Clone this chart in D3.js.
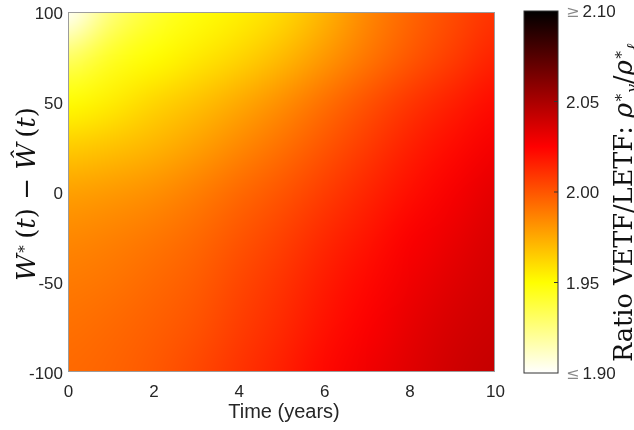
<!DOCTYPE html>
<html><head><meta charset="utf-8">
<script src="https://cdn.jsdelivr.net/npm/d3@7"></script>
<style>
html,body{margin:0;padding:0;background:#fff;}
#wrap{position:relative;width:634px;height:430px;overflow:hidden;background:#fff;}
canvas,svg{position:absolute;left:0;top:0;}
</style></head><body>
<div id="wrap"><canvas id="cv" width="634" height="430"></canvas><svg id="sv" width="634" height="430"></svg></div>
<script>
// ---- data ----
const times = [0,1,2,3,4,5,6,7,8,9,10];              // years
const wealthGaps = [100,75,50,25,0,-25,-50,-75,-100]; // W*(t) - Ŵ(t)
const ratioW100  = [1.900,1.926,1.940,1.948,1.954,1.961,1.972,1.985,1.995,2.003,2.010];
const ratioW75   = [1.930,1.943,1.950,1.956,1.962,1.970,1.980,1.990,1.999,2.007,2.015];
const ratioW50   = [1.950,1.955,1.962,1.968,1.975,1.983,1.992,2.001,2.009,2.016,2.022];
const ratioW25   = [1.965,1.968,1.972,1.978,1.985,1.992,2.000,2.008,2.016,2.022,2.028];
const ratioW0    = [1.978,1.980,1.983,1.988,1.994,2.000,2.007,2.014,2.021,2.027,2.033];
const ratioWm25  = [1.985,1.987,1.990,1.994,2.000,2.006,2.013,2.019,2.026,2.031,2.036];
const ratioWm50  = [1.989,1.991,1.994,1.998,2.004,2.010,2.017,2.023,2.029,2.034,2.038];
const ratioWm75  = [1.992,1.994,1.997,2.001,2.007,2.013,2.020,2.026,2.032,2.037,2.040];
const ratioWm100 = [1.994,1.996,1.999,2.004,2.010,2.016,2.023,2.029,2.034,2.039,2.042];
const ratioRows = [ratioW100,ratioW75,ratioW50,ratioW25,ratioW0,ratioWm25,ratioWm50,ratioWm75,ratioWm100];
const xTicks = [0,2,4,6,8,10];
const yTicks = [-100,-50,0,50,100];
const cbTicks = [1.90,1.95,2.00,2.05,2.10];
const cbTickLabels = ["1.90","1.95","2.00","2.05","2.10"];
const cbTickPrefix = ["≤","","","","≥"];

// ---- layout ----
const L=68,R=495,T=12,B=372;
const x = d3.scaleLinear().domain([0,10]).range([L,R]);
const y = d3.scaleLinear().domain([-100,100]).range([B,T]);
// reversed "hot" colormap, clamped to [1.90, 2.10]
const color = d3.scaleLinear().domain([1.90,1.95,2.025,2.10])
  .range(["#ffffff","#ffff00","#ff0000","#000000"]).clamp(true);

// ---- heat map: one pixel per data point, drawn smoothed ----
const nx=times.length, ny=wealthGaps.length;
const small=document.createElement("canvas"); small.width=nx; small.height=ny;
const sctx=small.getContext("2d");
const img=sctx.createImageData(nx,ny);
ratioRows.forEach((row,j)=>row.forEach((v,i)=>{
  const c=d3.rgb(color(v)); const k=(j*nx+i)*4;
  img.data[k]=c.r; img.data[k+1]=c.g; img.data[k+2]=c.b; img.data[k+3]=255;
}));
sctx.putImageData(img,0,0);
const ctx=document.getElementById("cv").getContext("2d");
ctx.save();
ctx.beginPath(); ctx.rect(L,T,R-L,B-T); ctx.clip();
ctx.imageSmoothingEnabled=true; ctx.imageSmoothingQuality="high";
const dt=times[1]-times[0], dw=wealthGaps[0]-wealthGaps[1];
const dx0=x(times[0]-dt/2), dx1=x(times[nx-1]+dt/2);
const dy0=y(wealthGaps[0]+dw/2), dy1=y(wealthGaps[ny-1]-dw/2);
ctx.drawImage(small,0,0,nx,ny,dx0,dy0,dx1-dx0,dy1-dy0);
ctx.restore();

// ---- axes ----
const svg=d3.select("#sv");
const tickCol="#262626";
svg.append("rect").attr("x",L+0.5).attr("y",T+0.5).attr("width",R-L-1).attr("height",B-T-1)
  .attr("fill","none").attr("stroke","#9c9c9c").attr("stroke-width",1);

const xa=svg.append("g").attr("transform",`translate(0,${B})`)
  .call(d3.axisBottom(x).tickValues(xTicks).tickSize(0).tickPadding(0).tickFormat(d3.format("d")));
xa.select(".domain").remove();
xa.selectAll("text").attr("y",25).attr("dy",null).attr("fill",tickCol)
  .attr("font-family","Liberation Sans, Arial, sans-serif").attr("font-size",17);

const ya=svg.append("g").attr("transform",`translate(${L},0)`)
  .call(d3.axisLeft(y).tickValues(yTicks).tickSize(0).tickPadding(0).tickFormat(d=>d<0?"-"+Math.abs(d):d));
ya.select(".domain").remove();
ya.selectAll("text").attr("x",-5).attr("dy","0.37em").attr("fill",tickCol)
  .attr("font-family","Liberation Sans, Arial, sans-serif").attr("font-size",17);

svg.append("text").attr("x",284).attr("y",418).attr("text-anchor","middle")
  .attr("font-family","Liberation Sans, Arial, sans-serif").attr("font-size",20).attr("fill",tickCol)
  .text("Time (years)");

// y label (LaTeX-like)
const yl=svg.append("text").attr("transform","translate(35,194) rotate(-90)")
  .attr("text-anchor","middle").attr("font-family","DejaVu Serif, serif").attr("font-size",23).attr("fill","#111");
yl.append("tspan").attr("font-style","italic").text("W");
yl.append("tspan").attr("dy",-9).attr("font-size",15).text("∗");
yl.append("tspan").attr("dy",9).text("\u2009(");
yl.append("tspan").attr("font-style","italic").text("t");
yl.append("tspan").text(") − ");
yl.append("tspan").attr("font-style","italic").text("Ŵ");
yl.append("tspan").text("\u2009(");
yl.append("tspan").attr("font-style","italic").text("t");
yl.append("tspan").text(")");
{ const len=yl.node().getComputedTextLength(); const fs=23*196/len; yl.attr("font-size",Math.min(26,fs)); }

// ---- colorbar ----
const cL=524,cR=558,cT=11,cB=373;
const cy=d3.scaleLinear().domain([1.90,2.10]).range([cB,cT]);
const defs=svg.append("defs");
const grad=defs.append("linearGradient").attr("id","cbg").attr("x1",0).attr("y1",1).attr("x2",0).attr("y2",0);
color.domain().forEach(v=>grad.append("stop").attr("offset",(v-1.90)/0.20).attr("stop-color",color(v)));
svg.append("rect").attr("x",cL).attr("y",cT).attr("width",cR-cL).attr("height",cB-cT)
  .attr("fill","url(#cbg)").attr("stroke","#333").attr("stroke-width",1);
cbTicks.forEach((v,i)=>{
  if(i>0&&i<cbTicks.length-1){
    svg.append("line").attr("x1",cR-4).attr("x2",cR).attr("y1",cy(v)).attr("y2",cy(v))
      .attr("stroke","#333").attr("stroke-width",1);
  }
  const t=svg.append("text").attr("x",566).attr("y",cy(v)).attr("dy","0.37em")
    .attr("font-family","Liberation Sans, Arial, sans-serif").attr("font-size",17).attr("fill",tickCol);
  if(cbTickPrefix[i]) t.append("tspan").attr("font-family","DejaVu Serif, serif").attr("fill","#888").attr("font-size",16).text(cbTickPrefix[i]+"\u2009");
  t.append("tspan").text(cbTickLabels[i]);
});

// colorbar label
const cl=svg.append("text").attr("transform","translate(632,362) rotate(-90)")
  .attr("font-family","DejaVu Serif, serif").attr("font-size",23).attr("fill","#111");
const clMain=cl.append("tspan").text("Ratio VETF/LETF: ");
{ const len=clMain.node().getComputedTextLength(); const fs=23*236/len; cl.attr("font-size",Math.min(26,fs)); }
cl.append("tspan").attr("font-style","italic").text("ϱ");
cl.append("tspan").attr("dy",-9).attr("font-size","0.6em").text("∗");
cl.append("tspan").attr("dy",14).attr("font-size","0.6em").attr("font-style","italic").text("v");
cl.append("tspan").attr("dy",-5).text("/");
cl.append("tspan").attr("font-style","italic").text("ϱ");
cl.append("tspan").attr("dy",-9).attr("font-size","0.6em").text("∗");
cl.append("tspan").attr("dy",14).attr("font-size","0.6em").attr("font-style","italic").text("ℓ");
</script>
</body></html>
